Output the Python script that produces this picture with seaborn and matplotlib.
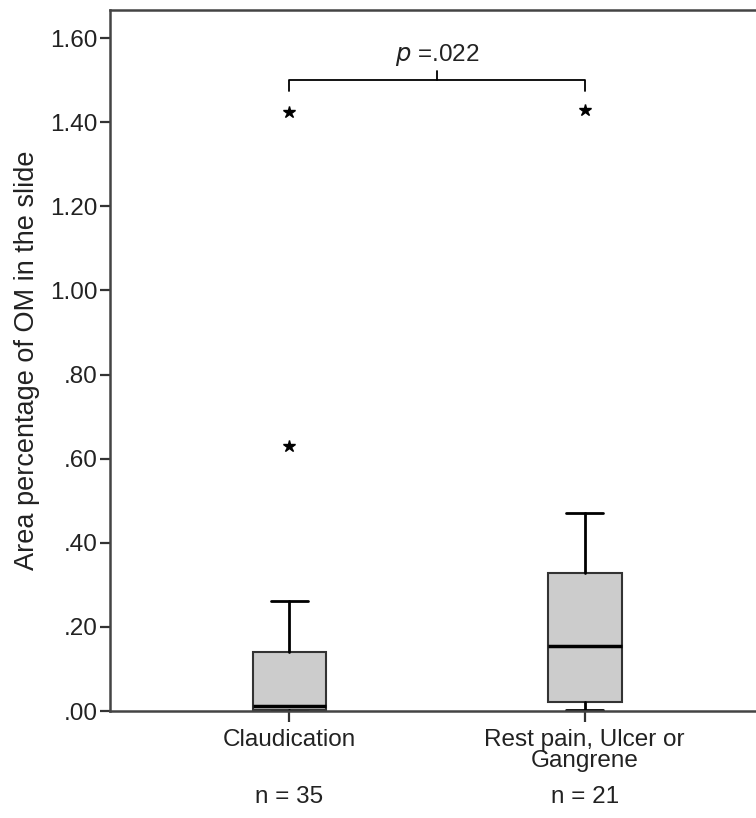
import matplotlib
matplotlib.use("Agg")
import matplotlib.pyplot as plt
import seaborn as sns

# ----------------------------
#  Datos
# ----------------------------
groups = ["Claudication", "Rest pain, Ulcer or\nGangrene"]
n_counts = [35, 21]
whisk_lo = [0.000, 0.003]
q1 = [0.003, 0.022]
medians = [0.012, 0.155]
q3 = [0.140, 0.327]
whisk_hi = [0.262, 0.470]
outliers = [[0.630, 1.425], [1.428]]
y_ticks = [0.0, 0.2, 0.4, 0.6, 0.8, 1.0, 1.2, 1.4, 1.6]
y_ticklabels = [".00", ".20", ".40", ".60", ".80", "1.00", "1.20", "1.40", "1.60"]
p_text = ".022"
bracket_y = 1.50

sns.set_style("ticks")
plt.rcParams["font.family"] = ["Liberation Sans", "DejaVu Sans"]

fig = plt.figure(figsize=(7.56, 8.18), dpi=100)
ax = fig.add_axes([0.1455, 0.1308, 0.87, 0.857])

stats = []
for i, g in enumerate(groups):
    stats.append({
        "label": g, "whislo": whisk_lo[i], "q1": q1[i], "med": medians[i],
        "q3": q3[i], "whishi": whisk_hi[i], "fliers": outliers[i],
    })

ax.bxp(stats, positions=range(len(groups)), widths=0.25, capwidths=0.125,
       patch_artist=True, showfliers=True,
       boxprops=dict(facecolor="#cccccc", edgecolor="#333333", linewidth=1.5),
       medianprops=dict(color="black", linewidth=2.5),
       whiskerprops=dict(color="black", linewidth=2),
       capprops=dict(color="black", linewidth=2),
       flierprops=dict(marker="*", markerfacecolor="black", markeredgecolor="black",
                       markersize=9, linestyle="none"))

ax.set_xlim(-0.608, 1.62)
ax.set_ylim(0, 1.667)
ax.set_yticks(y_ticks)
ax.set_yticklabels(y_ticklabels, fontsize=17.5, color="#222222")
ax.set_xticks(range(len(groups)))
ax.set_xticklabels(groups, fontsize=17.5, color="#222222", linespacing=0.95)
ax.tick_params(axis="y", length=7, width=1.6, color="#333333", pad=2)
ax.tick_params(axis="x", length=8, width=1.6, color="#333333", pad=5)
ax.set_ylabel("Area percentage of OM in the slide", fontsize=19.5, color="#222222", labelpad=7)

for side in ["left", "top", "bottom"]:
    ax.spines[side].set_color("#444444")
    ax.spines[side].set_linewidth(1.8)
ax.spines["right"].set_visible(False)

# n = ... bajo cada grupo
for i, n in enumerate(n_counts):
    ax.text(i, -0.205, f"n = {n}", ha="center", va="center", fontsize=17.5,
            color="#222222")

# corchete con valor p
x0, x1 = 0, len(groups) - 1
xm = (x0 + x1) / 2
ax.plot([x0, x0, x1, x1], [bracket_y - 0.025, bracket_y, bracket_y, bracket_y - 0.025],
        color="black", linewidth=1.3, clip_on=False)
ax.plot([xm, xm], [bracket_y, bracket_y + 0.022], color="black", linewidth=1.3)
ax.text(xm, bracket_y + 0.06, r"$\it{p}$ =" + p_text, ha="center", va="center",
        fontsize=17.5, color="#222222")

fig.savefig("out.png", dpi=100)
